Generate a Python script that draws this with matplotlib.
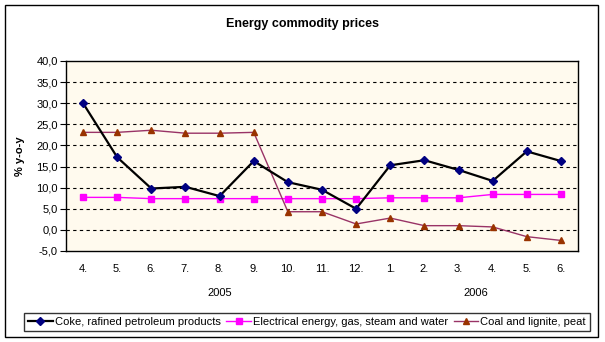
import matplotlib.pyplot as plt
from matplotlib.patches import Rectangle

# Monthly year-on-year changes, April 2005 - June 2006
months = ['4.', '5.', '6.', '7.', '8.', '9.', '10.', '11.', '12.',
          '1.', '2.', '3.', '4.', '5.', '6.']
coke = [30.0, 17.2, 9.8, 10.2, 8.0, 16.3, 11.3, 9.5, 5.0,
        15.3, 16.5, 14.2, 11.6, 18.6, 16.3]
electrical = [7.7, 7.7, 7.4, 7.4, 7.4, 7.4, 7.4, 7.4, 7.4,
              7.6, 7.6, 7.6, 8.4, 8.4, 8.4]
coal = [23.1, 23.1, 23.6, 22.9, 22.9, 23.1, 4.3, 4.3, 1.4,
        2.8, 1.0, 1.0, 0.7, -1.6, -2.5]
years = ['2005', '2006']
year_pos = [4, 11.5]
yticks = [-5, 0, 5, 10, 15, 20, 25, 30, 35, 40]

plt.rcParams['font.family'] = ['Liberation Sans', 'DejaVu Sans']

fig = plt.figure(figsize=(6.05, 3.42), dpi=100)
ax = fig.add_axes([66 / 605, 91 / 342, 512 / 605, 190 / 342])
ax.set_facecolor('#FFFAEE')

x = list(range(len(months)))
ax.plot(x, coke, color='black', lw=1.6, marker='D', ms=4,
        mfc='#000080', mec='#000080', label='Coke, rafined petroleum products', zorder=5)
ax.plot(x, electrical, color='#FF00FF', lw=1, marker='s', ms=4.5,
        mfc='#FF00FF', mec='#FF00FF', label='Electrical energy, gas, steam and water', zorder=4)
ax.plot(x, coal, color='#993366', lw=1, marker='^', ms=5,
        mfc='#993300', mec='#993300', label='Coal and lignite, peat', zorder=4)

ax.set_xlim(-0.5, len(months) - 0.5)
ax.set_ylim(-5, 40)
ax.set_yticks(yticks)
ax.set_yticklabels([f'{v:.1f}'.replace('.', ',') for v in yticks], fontsize=8)
ax.set_xticks(x)
ax.set_xticklabels(months, fontsize=8)
ax.tick_params(axis='x', length=0, pad=9)
ax.tick_params(axis='y', length=4, width=0.8, pad=2)
for v in yticks[1:-1]:
    ax.axhline(v, color='black', lw=0.8, ls=(0, (3, 3)), zorder=1)
for s in ax.spines.values():
    s.set_linewidth(1)

ax.set_ylabel('% y-o-y', fontsize=8, fontweight='bold', labelpad=8)
for yr, pos in zip(years, year_pos):
    ax.text(pos, -0.22, yr, transform=ax.get_xaxis_transform(),
            ha='center', va='center', fontsize=8)

fig.text(0.5, 1 - 24 / 342, 'Energy commodity prices', ha='center', va='center',
         fontsize=9, fontweight='bold')

leg = fig.legend(loc='center', bbox_to_anchor=(307 / 605, 1 - 322 / 342), ncol=3,
                 fontsize=8, frameon=True, fancybox=False, handlelength=2.2,
                 handletextpad=0.2, columnspacing=0.5, borderpad=0.35,
                 borderaxespad=0.2)
leg.get_frame().set_edgecolor('black')
leg.get_frame().set_linewidth(1)

fig.patches.append(Rectangle((5 / 605, 5 / 342), 593 / 605, 332 / 342,
                             transform=fig.transFigure, fill=False,
                             edgecolor='black', lw=1))

fig.savefig('out.png', dpi=100)
